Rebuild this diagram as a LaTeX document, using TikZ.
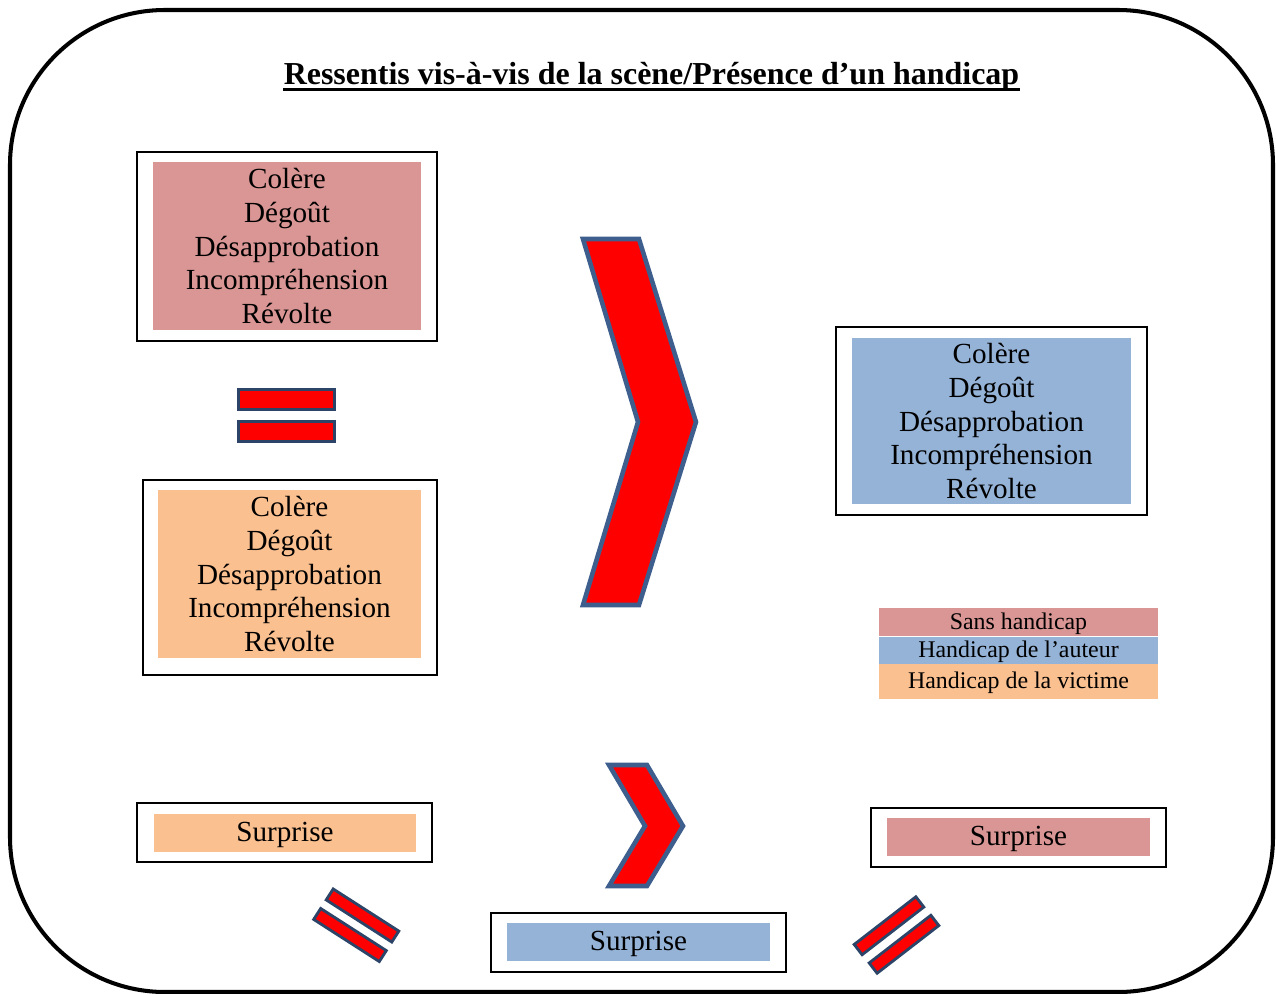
\documentclass[tikz,border=0pt]{standalone}
\usepackage{fontspec}
\setmainfont{Liberation Serif}
\usetikzlibrary{positioning}
\definecolor{SRPink}  {HTML}{D99694}
\definecolor{SRBlue}  {HTML}{95B3D7}
\definecolor{SROrange}{HTML}{FAC090}
\definecolor{SRRed}   {HTML}{FF0000}
\definecolor{SREdge}  {HTML}{3E5F8E}
\definecolor{SRNavy}  {HTML}{2B4468}

\begin{document}
\begin{tikzpicture}[x=0.02cm,y=-0.02cm,
    frame/.style={draw=black,line width=1.1pt,inner sep=0pt},
    fillbox/.style={fill=#1,inner sep=0pt,align=center,font=\fontsize{16.6}{19.3}\selectfont},
    surbox/.style={fillbox=#1,minimum width=5.26cm,minimum height=0.76cm,text height=11pt,text depth=1pt},
    leg/.style={fill=#1,inner sep=0pt,minimum width=5.58cm,text height=9pt,text depth=1pt,font=\fontsize{13.6}{15}\selectfont},
    chev/.style={fill=SRRed,draw=SREdge,line width=2.6pt,line join=miter},
    bar/.style={fill=SRRed,draw=SRNavy,line width=1.6pt,inner sep=0pt}
  ]
    \useasboundingbox (0,0) rectangle (1276,994);
    \draw[line width=2.3pt,rounded corners=3.1cm] (10,10) rectangle (1273,992);
    % title
    \node[anchor=base,inner sep=0pt,font=\fontsize{18.2}{21}\selectfont\bfseries] (title) at (651.5,84)
      {Ressentis vis-à-vis de la scène/Présence d’un handicap};
    \draw[line width=1.5pt] ([yshift=-3.2pt]title.base west) -- ([yshift=-3.2pt]title.base east);
    % boxes with the feelings
    \node[frame,minimum width=6cm,minimum height=3.78cm] (sansBox) at (287,246.5) {};
    \node[fillbox=SRPink,minimum width=5.36cm,minimum height=3.36cm] (sansTxt) at (287,246)
      {Colère\\Dégoût\\Désapprobation\\Incompréhension\\Révolte};
    \node[frame,minimum width=5.88cm,minimum height=3.9cm] (victBox) at (290,577.5) {};
    \node[fillbox=SROrange,minimum width=5.26cm,minimum height=3.36cm] (victTxt) at (289.5,574)
      {Colère\\Dégoût\\Désapprobation\\Incompréhension\\Révolte};
    \node[frame,minimum width=6.22cm,minimum height=3.76cm] (autBox) at (991.5,421) {};
    \node[fillbox=SRBlue,minimum width=5.58cm,minimum height=3.32cm] (autTxt) at (991.5,421)
      {Colère\\Dégoût\\Désapprobation\\Incompréhension\\Révolte};
    % surprise
    \node[frame,minimum width=5.9cm,minimum height=1.18cm] (victSurBox) at (284.5,832.5) {};
    \node[surbox=SROrange,minimum width=5.24cm] (victSur) at (285,833) {Surprise};
    \node[frame,minimum width=5.9cm,minimum height=1.18cm] (sansSurBox) at (1018.5,837.5) {};
    \node[surbox=SRPink] (sansSur) at (1018.5,837) {Surprise};
    \node[frame,minimum width=5.9cm,minimum height=1.18cm] (autSurBox) at (638.5,942.5) {};
    \node[surbox=SRBlue] (autSur) at (638.5,942) {Surprise};
    % legend
    \node[leg=SRPink,minimum height=0.56cm] (legSans) at (1018.5,622) {Sans handicap};
    \node[leg=SRBlue,minimum height=0.54cm,below=0pt of legSans] (legAut) {Handicap de l’auteur};
    \node[leg=SROrange,minimum height=0.7cm,below=0pt of legAut] (legVict) {Handicap de la victime};
    % chevrons
    \draw[chev] (583,239) -- (639,239) -- (696,422) -- (639,605) -- (583,605) -- (638,422) -- cycle;
    \draw[chev] (609,765) -- (647,765) -- (683,826) -- (647,886) -- (609,886) -- (645,826) -- cycle;
    % equals signs
    \node[bar,minimum width=1.92cm,minimum height=0.4cm] (eqA1) at (286.5,399.5) {};
    \node[bar,minimum width=1.92cm,minimum height=0.4cm] (eqA2) at (286.5,431.5) {};
    \node[bar,minimum width=1.56cm,minimum height=0.26cm,rotate=-32.7] (eqB1) at (362.5,915.5) {};
    \node[bar,minimum width=1.56cm,minimum height=0.26cm,rotate=-32.7] (eqB2) at (350,935) {};
    \node[bar,minimum width=1.56cm,minimum height=0.26cm,rotate=37.7] (eqC1) at (889,925.75) {};
    \node[bar,minimum width=1.56cm,minimum height=0.26cm,rotate=37.7] (eqC2) at (904,944.25) {};
  \end{tikzpicture}
\end{document}
